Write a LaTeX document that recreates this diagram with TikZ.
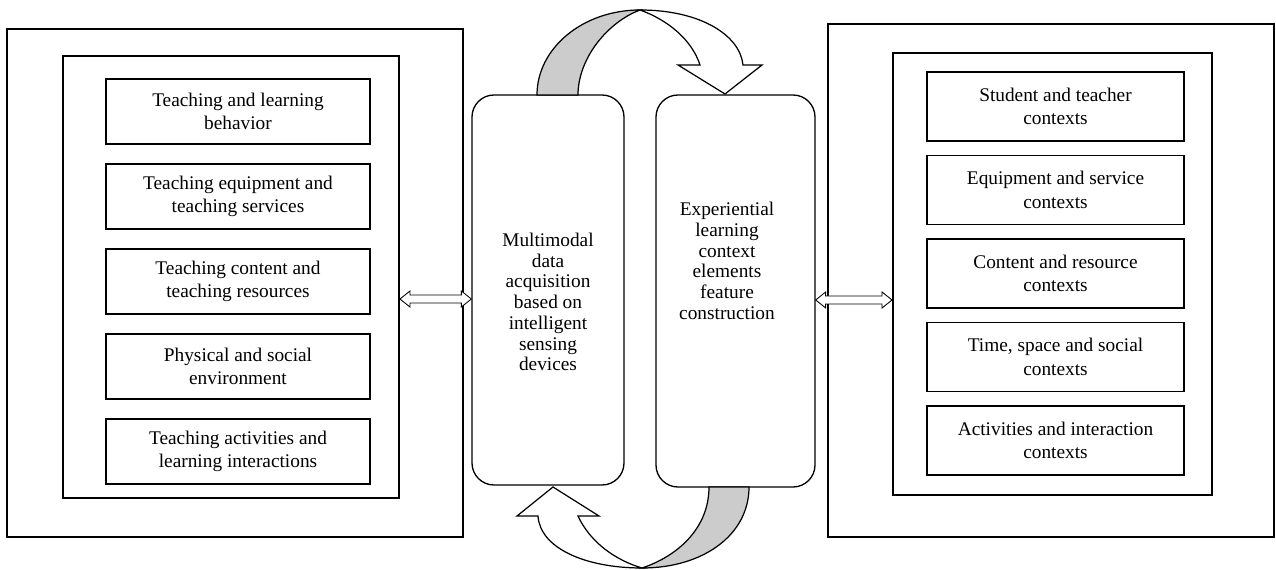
\documentclass[tikz,border=0pt]{standalone}
\usepackage{fontspec}
\setmainfont{Liberation Serif}
\usetikzlibrary{calc}

% hollow two-headed block arrow, drawn at the height of the first point
\newcommand{\dblarrow}[2]{%
  \draw[dblarrow] let \p1=(#1), \p2=(#2) in
    (\x1,\y1) -- (\x1+2mm,\y1+1.6mm) -- (\x1+2mm,\y1+0.8mm)
    -- (\x2-2mm,\y1+0.8mm) -- (\x2-2mm,\y1+1.6mm) -- (\x2,\y1)
    -- (\x2-2mm,\y1-1.6mm) -- (\x2-2mm,\y1-0.8mm)
    -- (\x1+2mm,\y1-0.8mm) -- (\x1+2mm,\y1-1.6mm) -- cycle;}

\begin{document}
\begin{tikzpicture}[x=0.2mm, y=-0.2mm,
    frame/.style={draw, line width=1.1pt},
    item/.style={draw, line width=1.1pt, align=center, inner sep=0pt},
    sense/.style={draw, line width=0.75pt, rounded corners=4.4mm},
    sensetext/.style={align=center, font=\fontsize{11}{11.8}\selectfont},
    dblarrow/.style={line width=0.5pt, fill=white},
    turnarrow/.style={draw, line width=0.7pt, line join=miter},
    every node/.append style={font=\fontsize{11}{13.5}\selectfont}
  ]
  \useasboundingbox (0,0) rectangle (1276,570);

  % Left: teaching elements
  \node[frame, minimum width=91.2mm, minimum height=101.6mm] (lout) at (235,283) {};
  \node[frame, minimum width=67.2mm, minimum height=88.4mm] (lmid) at (231,277) {};
  \foreach \txt [count=\i from 0] in {
      {Teaching and learning\\behavior},
      {Teaching equipment and\\teaching services},
      {Teaching content and\\teaching resources},
      {Physical and social\\environment},
      {Teaching activities and\\learning interactions}}
    \node[item, minimum width=52.8mm, minimum height=13mm] (lbox\i) at (238,111.5+85*\i) {\txt};

  % Right: context elements
  \node[frame, minimum width=89.2mm, minimum height=102.6mm] (rout) at (1051,280.5) {};
  \node[frame, minimum width=63.8mm, minimum height=88.4mm] (rmid) at (1052.5,274) {};
  \foreach \txt [count=\i from 0] in {
      {Student and teacher\\contexts},
      {Equipment and service\\contexts},
      {Content and resource\\contexts},
      {Time, space and social\\contexts},
      {Activities and interaction\\contexts}}
    \node[item, minimum width=51.4mm, minimum height=13.8mm] (rbox\i) at (1055.5,106.5+83.5*\i) {\txt};

  % Middle: the two processing stages
  \node[sense, minimum width=30.4mm, minimum height=78mm] (lsense) at (548,290) {};
  \node[sensetext] (lsensetxt) at (548,302)
    {Multimodal\\data\\acquisition\\based on\\intelligent\\sensing\\devices};
  \node[sense, minimum width=31.8mm, minimum height=78.4mm] (rsense) at (735.5,291) {};
  \node[sensetext] (rsensetxt) at (727,261)
    {Experiential\\learning\\context\\elements\\feature\\construction};

  % Links between the sides and the middle
  \dblarrow{[yshift=-4.4mm]lmid.east}{lsense.west}
  \dblarrow{[yshift=-1.8mm]rsense.east}{rmid.west}

  % Turning arrow on top
  \filldraw[turnarrow, fill=black!20] (537,95) .. controls (537,48) and (583,10) .. (640,10)
    .. controls (608,22) and (578,58) .. (578,95) -- cycle;
  \filldraw[turnarrow, fill=white] (640,10) .. controls (700,10) and (740,35) .. (743,65)
    -- (762,65) -- (725,94) -- (678,65) -- (700,65)
    .. controls (692,40) and (668,20) .. (640,10) -- cycle;

  % Turning arrow below
  \filldraw[turnarrow, fill=black!20] (709,487) -- (749,487)
    .. controls (749,535) and (703,568) .. (642,568)
    .. controls (678,556) and (709,528) .. (709,487) -- cycle;
  \filldraw[turnarrow, fill=white] (642,568) .. controls (585,568) and (540,548) .. (538,516)
    -- (517,516) -- (553,487) -- (599,516) -- (578,516)
    .. controls (590,542) and (615,560) .. (642,568) -- cycle;

\end{tikzpicture}
\end{document}
